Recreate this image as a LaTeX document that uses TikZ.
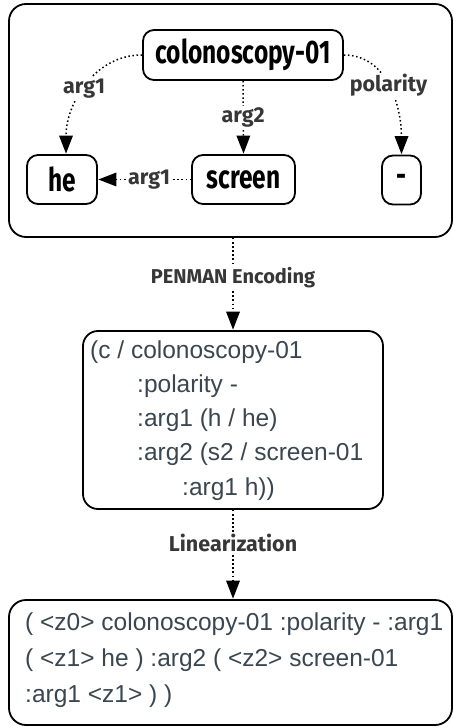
\documentclass[tikz,border=0pt]{standalone}
\usepackage{fontspec}
\setmainfont{Liberation Sans}
\newfontfamily\labfont{Fira Sans}
\usetikzlibrary{arrows.meta}
\definecolor{txt}{RGB}{58,70,80}
\definecolor{labc}{RGB}{55,55,55}
\newcommand{\tallbox}[1]{\scalebox{1}[1.33]{#1}}
\tikzset{
  frame/.style={draw, line width=1.8pt, rounded corners=17pt, inner sep=0pt},
  gnode/.style={draw, line width=1.8pt, rounded corners=11pt, inner sep=0pt,
    minimum height=49pt, font=\labfont\bfseries\fontsize{24.5}{28}\selectfont},
  edge/.style={line width=1.5pt, dash pattern=on 1.5pt off 2.6pt,
    -{Triangle[length=18pt,width=14pt,line width=0pt]}, shorten >=0.5pt},
  elab/.style={fill=white, inner sep=1.5pt, text=labc,
    font=\labfont\bfseries\fontsize{21.5}{24}\selectfont},
  code/.style={anchor=mid west, inner sep=0pt, text=txt,
    font=\fontsize{24.5}{30}\selectfont},
}
\begin{document}
\begin{tikzpicture}[x=1pt,y=-1pt]
\useasboundingbox (0,0) rectangle (454,727);
% top graph frame
\node[frame, minimum width=443pt, minimum height=233pt] (graph) at (230.5,120.5) {};
\node[gnode, minimum width=200pt, minimum height=50pt] (col) at (243,55) {\tallbox{colonoscopy-01}};
\node[gnode, minimum width=70pt] (he) at (62,179.5) {\tallbox{he}};
\node[gnode, minimum width=103pt] (scr) at (243.5,179.5) {\tallbox{screen}};
\node[gnode, minimum width=39pt] (neg) at (401.5,180) {\tallbox{-}};
\coordinate (heTop) at ([xshift=4pt]he.north);
\draw[edge] (col.west) to[out=180,in=90] node[elab, pos=0.52] {arg1} (heTop);
\draw[edge] (col.south) -- node[elab, pos=0.5] {arg2} (scr.north);
\draw[edge] (col.east) to[out=0,in=90] node[elab, pos=0.48] {polarity} (neg.north);
\draw[edge] (scr.west) -- node[elab, inner sep=0.5pt, pos=0.45] {arg1} (he.east);
% PENMAN box
\node[frame, rounded corners=15pt, minimum width=300pt, minimum height=178pt] (pen) at (233,420) {};
\node[code] (p1) at (90,356) {(c / colonoscopy-01};
\node[code] (p2) at (137,390) {:polarity -};
\node[code] (p3) at (137,424) {:arg1 (h / he)};
\node[code] (p4) at (137,458) {:arg2 (s2 / screen-01};
\node[code] (p5) at (182,493) {:arg1 h))};
\draw[edge] (pen.north |- graph.south) -- node[elab, pos=0.43, font=\labfont\bfseries\fontsize{20}{24}\selectfont] {PENMAN Encoding} (pen.north);
% linearized box
\node[frame, minimum width=443pt, minimum height=125pt] (lin) at (230.5,662.5) {};
\node[code] (l1) at (25,628) {( <z0> colonoscopy-01 :polarity - :arg1};
\node[code] (l2) at (25,664) {( <z1> he ) :arg2 ( <z2> screen-01};
\node[code] (l3) at (25,700) {:arg1 <z1> ) )};
\draw[edge] (pen.south) -- node[elab, pos=0.37] {Linearization} (pen.south |- lin.north);
\end{tikzpicture}
\end{document}
